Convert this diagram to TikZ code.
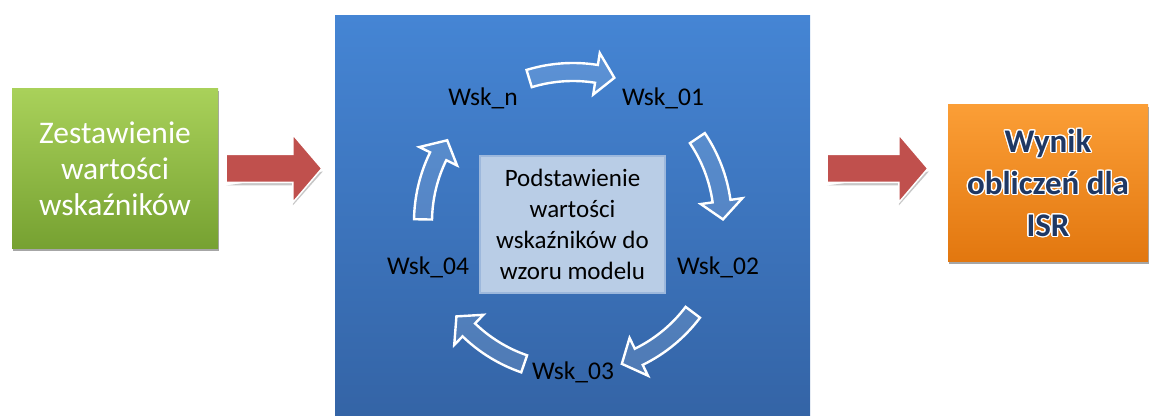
\documentclass[tikz,border=0pt]{standalone}
\usepackage{fontspec}
\setmainfont{Carlito}
\usepackage{contour}
\contourlength{1.3pt}
\contournumber{16}
\usetikzlibrary{calc,shadows}

\definecolor{grntop}{HTML}{A9D15A}
\definecolor{grnbot}{HTML}{76A131}
\definecolor{blutop}{HTML}{4585D4}
\definecolor{blubot}{HTML}{3464A6}
\definecolor{orgtop}{HTML}{FB9E36}
\definecolor{orgbot}{HTML}{E2770F}
\definecolor{inner}{HTML}{B9CDE6}
\definecolor{innerline}{HTML}{9DB8DC}
\definecolor{redarrow}{HTML}{C0504D}
\definecolor{navy}{HTML}{1F3864}

\tikzset{
  box/.style={inner sep=0pt, align=center},
  boxshadow/.style={drop shadow={shadow xshift=0.6pt, shadow yshift=-2.2pt, fill=black, opacity=0.35}},
  label/.style={text=black, font=\fontsize{25.5}{30}\selectfont, inner sep=0pt},
  cycarrow/.style={draw=white, line width=2.4pt, line join=miter, fill=white, fill opacity=0.13},
  redfill/.style={fill=redarrow, draw=white, line width=1.5pt, line join=miter},
  redshadow/.style={fill=black!22, draw=none},
}

% curved block arrow on the cycle, clockwise from angle #1 to angle #2
\newcommand\cyclearrow[2]{%
  \draw[cycarrow]
    ($(cc)+(#1:159)$) arc[start angle=#1, end angle=#2+7, radius=159]
    -- ($(cc)+(#2+7:171)$) -- ($(cc)+(#2:150)$) -- ($(cc)+(#2+7:129)$)
    -- ($(cc)+(#2+7:141)$) arc[start angle=#2+7, end angle=#1, radius=141]
    -- cycle;}

% straight block arrow from anchor #1 (tail, gap #4) to anchor #2 (tip, gap #5)
\newcommand\blockarrow[5]{%
  \path ($(#1)+(#4,0)$) coordinate (#3a) ($(#2)+(-#5,0)$) coordinate (#3b);
  \fill[redshadow] ($(#3a)+(0,-17)$) -- ($(#3b)+(-29,-17)$) -- ($(#3b)+(-29,-37)$)
     -- ($(#3b)+(1,-3)$) -- cycle;
  \draw[redfill] ($(#3a)+(0,14)$) -- ($(#3b)+(-29,14)$) -- ($(#3b)+(-29,34)$)
     -- (#3b) -- ($(#3b)+(-29,-34)$) -- ($(#3b)+(-29,-14)$)
     -- ($(#3a)+(0,-14)$) -- cycle;}

\begin{document}
\begin{tikzpicture}[x=1pt,y=1pt]
\useasboundingbox (0,0) rectangle (1150,415);

% input box
\node[box, boxshadow, minimum width=206pt, minimum height=160pt,
      top color=grntop, bottom color=grnbot, text=white,
      font=\fontsize{31.5}{36}\selectfont] (input) at (115,246)
      {Zestawienie\\wartości\\wskaźników};

% model box with the indicator cycle
\shade[top color=blutop, bottom color=blubot] (335,0) rectangle (810,399);
\node[box, minimum width=475pt, minimum height=399pt] (model) at (572.5,199.5) {};

\node[box, fill=inner, draw=innerline, line width=1.5pt,
      minimum width=185pt, minimum height=137pt, text=black,
      font=\fontsize{25}{30.8}\selectfont] (core) at (572.5,190.5)
      {Podstawienie\\wartości\\wskaźników do\\wzoru modelu};

\coordinate (cc) at (573,193);
\node[label] (wn)  at (483,317) {Wsk\_n};
\node[label] (w01) at (663,317) {Wsk\_01};
\node[label] (w02) at (718,148) {Wsk\_02};
\node[label] (w03) at (573,43)  {Wsk\_03};
\node[label] (w04) at (428,148) {Wsk\_04};

\cyclearrow{107}{74}
\cyclearrow{34}{1}
\cyclearrow{-37}{-71}
\cyclearrow{-109}{-141}
\cyclearrow{179}{147}

% result box
\node[box, boxshadow, minimum width=200pt, minimum height=157pt,
      top color=orgtop, bottom color=orgbot, text=navy,
      font=\bfseries\fontsize{33}{42}\selectfont] (result) at (1048,231.5)
      {\contour{white}{Wynik}\\\contour{white}{obliczeń dla}\\\contour{white}{ISR}};

% flow arrows
\coordinate (inE) at (input.east |- 0,246.5);
\coordinate (mdW) at (model.west |- 0,246.5);
\coordinate (mdE) at (model.east |- 0,246.5);
\coordinate (rsW) at (result.west |- 0,246.5);
\blockarrow{inE}{mdW}{fa}{8}{13}
\blockarrow{mdE}{rsW}{fb}{17}{20}
\end{tikzpicture}
\end{document}
